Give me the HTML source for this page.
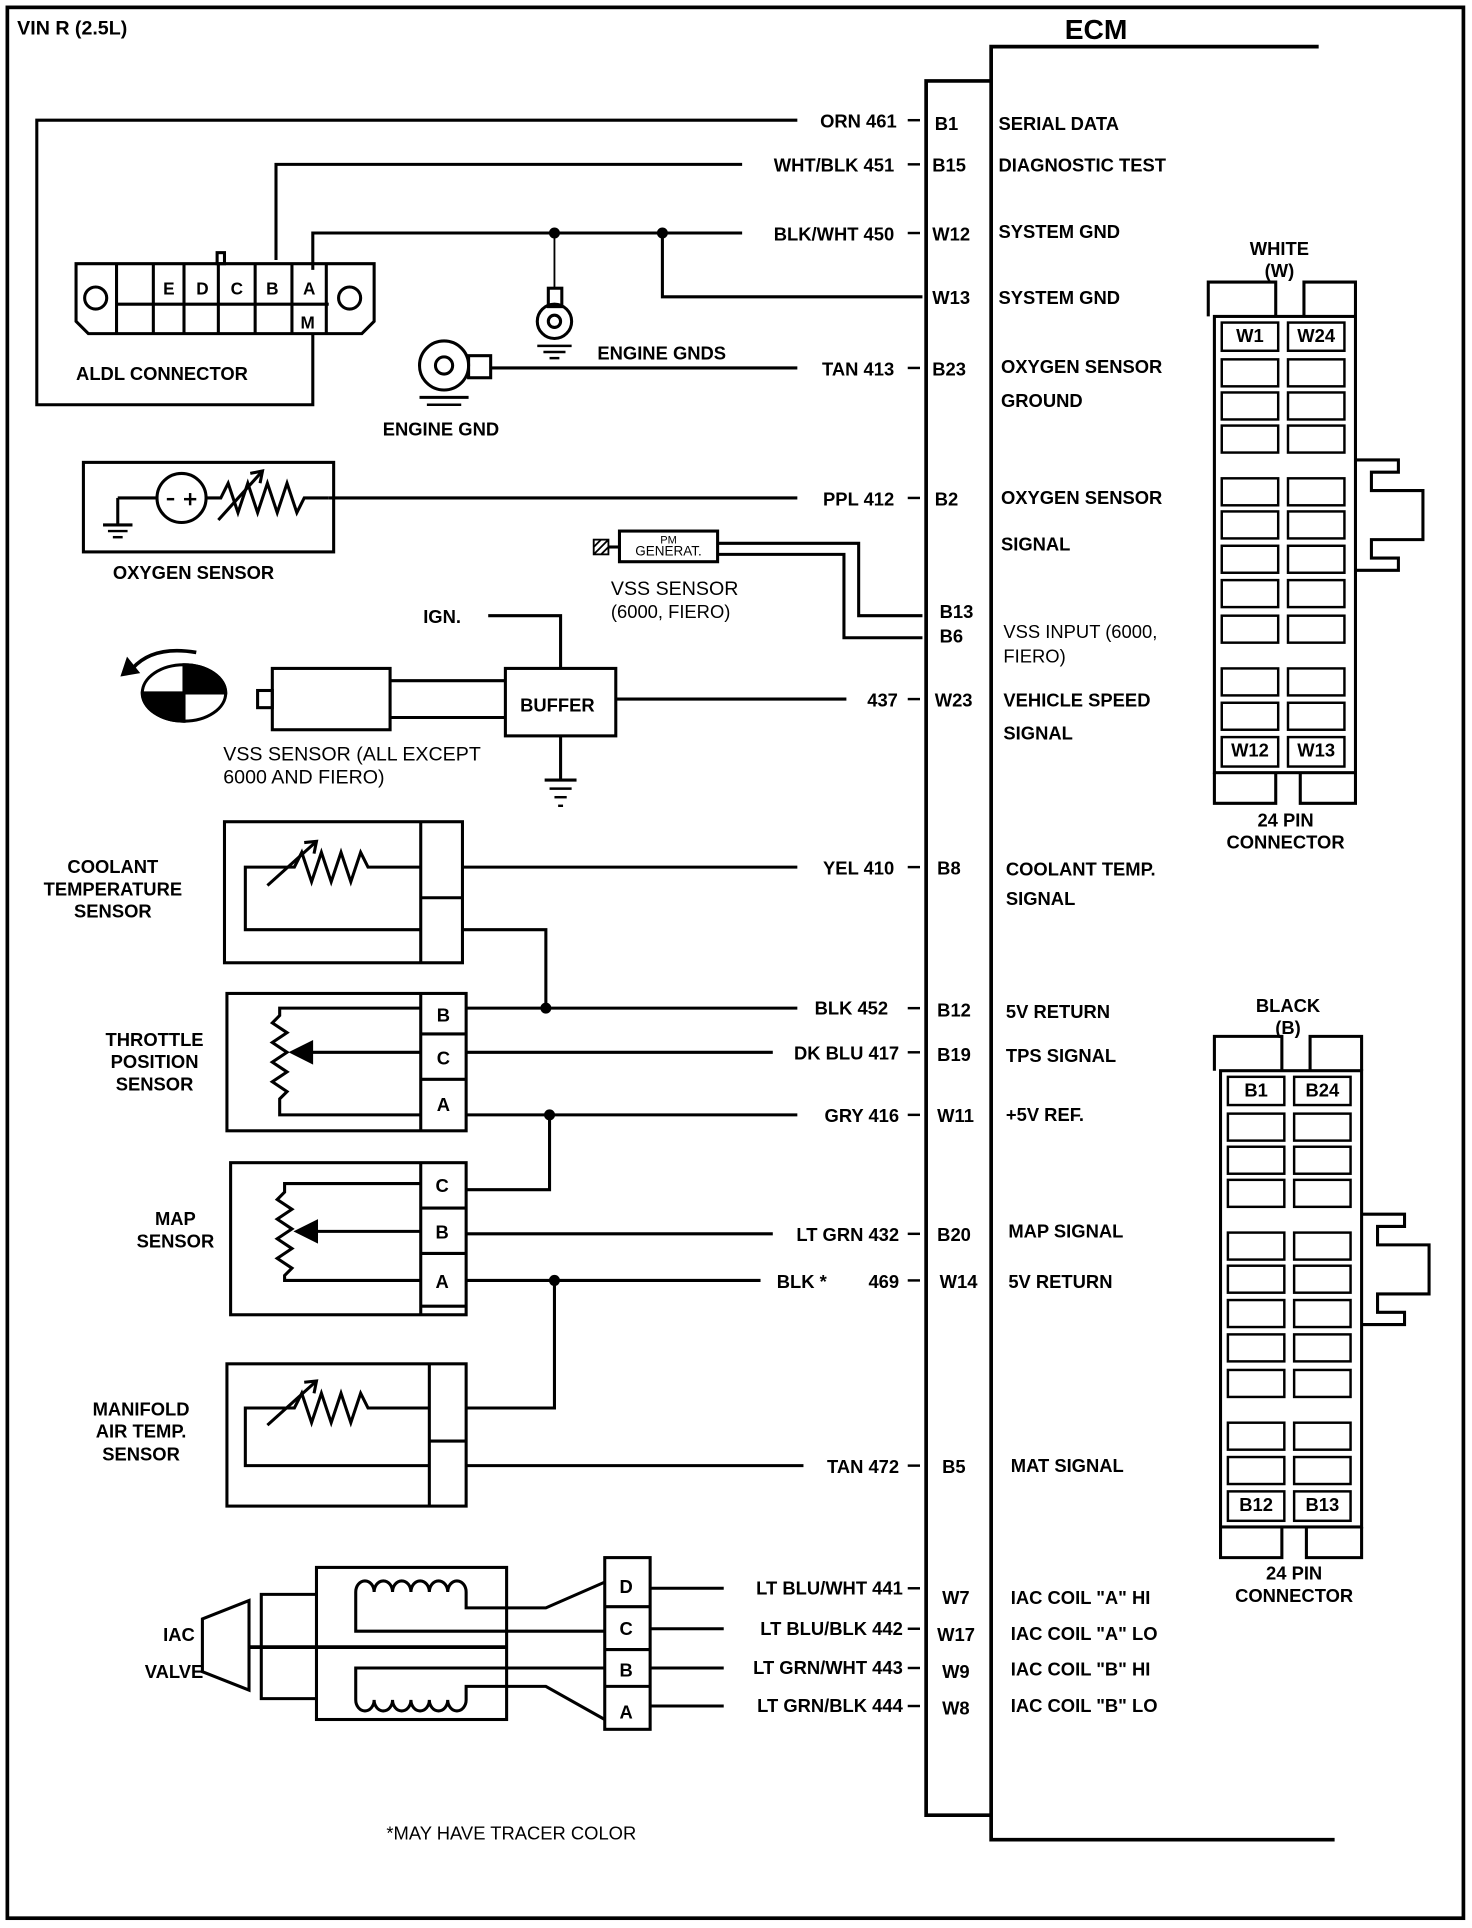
<!DOCTYPE html>
<html><head><meta charset="utf-8"><style>
html,body{margin:0;padding:0;background:#fff}
svg{display:block}
text{font-family:"Liberation Sans",sans-serif;font-weight:bold;font-size:15px;fill:#000}
.r{font-weight:normal}
</style></head><body>
<svg width="1472" height="1928" viewBox="0 0 1200 1572" preserveAspectRatio="none" xmlns="http://www.w3.org/2000/svg">
<g fill="none" stroke="#000" stroke-width="2.5">
<rect x="6" y="6" width="1187" height="1558" stroke-width="3"/>
<polyline points="1075,38 808,38 808,1500 1088,1500" stroke-width="3"/>
<polyline points="808,66 755,66 755,1480 808,1480" stroke-width="3"/>
<polyline points="650,98 30,98 30,330 255,330 255,272"/>
<polyline points="605,134 225,134 225,212"/>
<polyline points="605,190 255,190 255,220"/>
<polyline points="540,190 540,242 752,242"/>
<line x1="452" y1="190" x2="452" y2="235" stroke-width="1.5"/>
<line x1="400" y1="300" x2="650" y2="300"/>
<line x1="268" y1="406" x2="650" y2="406"/>
<polyline points="585,443 700,443 700,502 752,502"/>
<polyline points="585,452 688,452 688,520 752,520"/>
<line x1="502" y1="570" x2="690" y2="570"/>
<line x1="377" y1="707" x2="650" y2="707"/>
<polyline points="377,758 445,758 445,822"/>
<line x1="380" y1="822" x2="650" y2="822"/>
<line x1="380" y1="858" x2="630" y2="858"/>
<line x1="380" y1="909" x2="650" y2="909"/>
<polyline points="448,909 448,970 380,970"/>
<line x1="380" y1="1006" x2="630" y2="1006"/>
<line x1="380" y1="1044" x2="620" y2="1044"/>
<polyline points="452,1044 452,1148 380,1148"/>
<line x1="380" y1="1195" x2="655" y2="1195"/>
<line x1="530" y1="1295" x2="590" y2="1295"/>
<line x1="530" y1="1328" x2="590" y2="1328"/>
<line x1="530" y1="1360" x2="590" y2="1360"/>
<line x1="530" y1="1391" x2="590" y2="1391"/>
<g stroke-width="2">
<line x1="740" y1="98" x2="750" y2="98"/><line x1="740" y1="134" x2="750" y2="134"/><line x1="740" y1="190" x2="750" y2="190"/>
<line x1="740" y1="300" x2="750" y2="300"/><line x1="740" y1="406" x2="750" y2="406"/><line x1="740" y1="570" x2="750" y2="570"/>
<line x1="740" y1="707" x2="750" y2="707"/><line x1="740" y1="822" x2="750" y2="822"/><line x1="740" y1="858" x2="750" y2="858"/>
<line x1="740" y1="909" x2="750" y2="909"/><line x1="740" y1="1006" x2="750" y2="1006"/><line x1="740" y1="1044" x2="750" y2="1044"/>
<line x1="740" y1="1195" x2="750" y2="1195"/><line x1="740" y1="1295" x2="750" y2="1295"/><line x1="740" y1="1328" x2="750" y2="1328"/>
<line x1="740" y1="1360" x2="750" y2="1360"/><line x1="740" y1="1391" x2="750" y2="1391"/>
</g>
<path d="M62,215 H305 V262 L295,272 H72 L62,262 Z"/>
<line x1="95" y1="248" x2="268" y2="248"/>
<line x1="95" y1="215" x2="95" y2="272"/><line x1="125" y1="215" x2="125" y2="272"/><line x1="150" y1="215" x2="150" y2="272"/>
<line x1="178" y1="215" x2="178" y2="272"/><line x1="208" y1="215" x2="208" y2="272"/><line x1="238" y1="215" x2="238" y2="272"/><line x1="266" y1="215" x2="266" y2="272"/>
<circle cx="78" cy="243" r="9"/><circle cx="285" cy="243" r="9"/>
<rect x="177" y="206" width="6" height="9"/>
<rect x="447" y="235" width="11" height="15"/>
<circle cx="452" cy="262" r="14"/><circle cx="452" cy="262" r="5"/>
<line x1="438" y1="282" x2="466" y2="282" stroke-width="2"/><line x1="443" y1="287" x2="461" y2="287" stroke-width="2"/><line x1="448" y1="292" x2="456" y2="292" stroke-width="2"/>
<circle cx="362" cy="298" r="20"/><circle cx="362" cy="298" r="7"/>
<rect x="382" y="290" width="18" height="18"/>
<line x1="342" y1="324" x2="382" y2="324"/><line x1="348" y1="330" x2="376" y2="330" stroke-width="2"/>
<rect x="68" y="377" width="204" height="73"/>
<polyline points="96,406 128,406"/>
<polyline points="96,406 96,428"/><line x1="84" y1="428" x2="108" y2="428"/><line x1="88" y1="433" x2="104" y2="433" stroke-width="2"/><line x1="92" y1="438" x2="100" y2="438" stroke-width="2"/>
<circle cx="148" cy="406" r="20"/>
<line x1="136" y1="407" x2="142" y2="407" stroke-width="2"/>
<line x1="150" y1="407" x2="160" y2="407" stroke-width="2"/><line x1="155" y1="402" x2="155" y2="412" stroke-width="2"/>
<polyline points="168,406 180,406 186,394 194,418 202,394 210,418 218,394 226,418 234,394 242,418 248,406 268,406"/>
<line x1="178" y1="424" x2="214" y2="384"/><polyline points="204,386 214,384 212,394"/>
<rect x="505" y="433" width="80" height="25"/>
<rect x="484" y="440" width="12" height="12" stroke-width="1.5"/>
<line x1="484" y1="452" x2="496" y2="440" stroke-width="1.5"/><line x1="484" y1="446" x2="490" y2="440" stroke-width="1.5"/><line x1="490" y1="452" x2="496" y2="446" stroke-width="1.5"/>
<line x1="496" y1="446" x2="505" y2="446"/>
<ellipse cx="150" cy="565" rx="34" ry="23"/>
<path d="M150,542 A34,23 0 0,1 184,565 L150,565 Z" fill="#000"/>
<path d="M150,588 A34,23 0 0,1 116,565 L150,565 Z" fill="#000"/>
<path d="M160,532 Q125,526 108,545" stroke-width="3"/><polygon points="100,550 112,548 104,538" fill="#000"/>
<rect x="210" y="563" width="12" height="14"/>
<rect x="222" y="545" width="96" height="50"/>
<line x1="318" y1="555" x2="412" y2="555"/><line x1="318" y1="585" x2="412" y2="585"/>
<rect x="412" y="545" width="90" height="55"/>
<polyline points="398,502 457,502 457,545"/>
<line x1="457" y1="600" x2="457" y2="636"/>
<line x1="444" y1="636" x2="470" y2="636"/><line x1="448" y1="643" x2="466" y2="643" stroke-width="2"/><line x1="452" y1="650" x2="462" y2="650" stroke-width="2"/><line x1="455" y1="657" x2="459" y2="657" stroke-width="2"/>
<rect x="183" y="670" width="194" height="115"/>
<line x1="343" y1="670" x2="343" y2="785"/><line x1="343" y1="732" x2="377" y2="732"/>
<polyline points="343,707 300,707 294,695 286,719 278,695 270,719 262,695 254,719 246,695 240,707 200,707 200,758 343,758"/>
<line x1="218" y1="722" x2="258" y2="686"/><polyline points="248,687 258,686 256,696"/>
<rect x="185" y="810" width="195" height="112"/>
<line x1="343" y1="810" x2="343" y2="922"/><line x1="343" y1="843" x2="380" y2="843"/><line x1="343" y1="880" x2="380" y2="880"/>
<polyline points="343,822 228,822 228,828 222,834 234,842 222,850 234,858 222,866 234,874 222,882 234,890 228,896 228,909 343,909"/>
<line x1="248" y1="858" x2="343" y2="858"/><polygon points="238,858 254,850 254,866" fill="#000"/>
<rect x="188" y="948" width="192" height="124"/>
<line x1="343" y1="948" x2="343" y2="1072"/><line x1="343" y1="985" x2="380" y2="985"/><line x1="343" y1="1022" x2="380" y2="1022"/><line x1="343" y1="1065" x2="380" y2="1065"/>
<polyline points="343,965 232,965 232,972 226,978 238,986 226,994 238,1002 226,1010 238,1018 226,1026 238,1034 232,1040 232,1044 343,1044"/>
<line x1="252" y1="1004" x2="343" y2="1004"/><polygon points="242,1004 258,996 258,1012" fill="#000"/>
<rect x="185" y="1112" width="195" height="116"/>
<line x1="350" y1="1112" x2="350" y2="1228"/><line x1="350" y1="1175" x2="380" y2="1175"/>
<polyline points="350,1148 300,1148 294,1136 286,1160 278,1136 270,1160 262,1136 254,1160 246,1136 240,1148 200,1148 200,1195 350,1195"/>
<line x1="218" y1="1162" x2="258" y2="1126"/><polyline points="248,1127 258,1126 256,1136"/>
<!-- IAC -->
<rect x="258" y="1278" width="155" height="124"/>
<polygon points="165,1320 203,1305 203,1378 165,1363"/>
<polyline points="258,1300 213,1300 213,1385 258,1385"/>
<line x1="203" y1="1343" x2="413" y2="1343" stroke-width="3"/>
<path d="M493,1290 L445,1311 H380 V1298 A7.5,9 0 0 0 365,1298 A7.5,9 0 0 0 350,1298 A7.5,9 0 0 0 335,1298 A7.5,9 0 0 0 320,1298 A7.5,9 0 0 0 305,1298 A7.5,9 0 0 0 290,1298 V1330 H493"/>
<path d="M493,1360 H290 V1386 A7.5,9 0 0 0 305,1386 A7.5,9 0 0 0 320,1386 A7.5,9 0 0 0 335,1386 A7.5,9 0 0 0 350,1386 A7.5,9 0 0 0 365,1386 A7.5,9 0 0 0 380,1386 V1375 H445 L493,1402"/>
<rect x="493" y="1270" width="37" height="140"/>
<line x1="493" y1="1310" x2="530" y2="1310"/><line x1="493" y1="1345" x2="530" y2="1345"/><line x1="493" y1="1375" x2="530" y2="1375"/>
<g>
<path d="M985,258 V230 H1040 V258 M1063,258 V230 H1105 V258"/>
<rect x="990" y="258" width="115" height="372"/>
<path d="M1105,375 H1140 V385 H1118 V400 H1160 V440 H1118 V455 H1140 V465 H1105"/>
<path d="M990,630 V655 H1040 V630 M1060,630 V655 H1105 V630"/>
<g stroke-width="2">
<rect x="996" y="263" width="46" height="23"/><rect x="1050" y="263" width="46" height="23"/>
<rect x="996" y="293" width="46" height="22"/><rect x="1050" y="293" width="46" height="22"/>
<rect x="996" y="320" width="46" height="22"/><rect x="1050" y="320" width="46" height="22"/>
<rect x="996" y="347" width="46" height="22"/><rect x="1050" y="347" width="46" height="22"/>
<rect x="996" y="390" width="46" height="22"/><rect x="1050" y="390" width="46" height="22"/>
<rect x="996" y="417" width="46" height="22"/><rect x="1050" y="417" width="46" height="22"/>
<rect x="996" y="445" width="46" height="22"/><rect x="1050" y="445" width="46" height="22"/>
<rect x="996" y="473" width="46" height="22"/><rect x="1050" y="473" width="46" height="22"/>
<rect x="996" y="502" width="46" height="22"/><rect x="1050" y="502" width="46" height="22"/>
<rect x="996" y="545" width="46" height="22"/><rect x="1050" y="545" width="46" height="22"/>
<rect x="996" y="573" width="46" height="22"/><rect x="1050" y="573" width="46" height="22"/>
<rect x="996" y="601" width="46" height="24"/><rect x="1050" y="601" width="46" height="24"/>
</g></g>
<g transform="translate(5,615)">
<path d="M985,258 V230 H1040 V258 M1063,258 V230 H1105 V258"/>
<rect x="990" y="258" width="115" height="372"/>
<path d="M1105,375 H1140 V385 H1118 V400 H1160 V440 H1118 V455 H1140 V465 H1105"/>
<path d="M990,630 V655 H1040 V630 M1060,630 V655 H1105 V630"/>
<g stroke-width="2">
<rect x="996" y="263" width="46" height="23"/><rect x="1050" y="263" width="46" height="23"/>
<rect x="996" y="293" width="46" height="22"/><rect x="1050" y="293" width="46" height="22"/>
<rect x="996" y="320" width="46" height="22"/><rect x="1050" y="320" width="46" height="22"/>
<rect x="996" y="347" width="46" height="22"/><rect x="1050" y="347" width="46" height="22"/>
<rect x="996" y="390" width="46" height="22"/><rect x="1050" y="390" width="46" height="22"/>
<rect x="996" y="417" width="46" height="22"/><rect x="1050" y="417" width="46" height="22"/>
<rect x="996" y="445" width="46" height="22"/><rect x="1050" y="445" width="46" height="22"/>
<rect x="996" y="473" width="46" height="22"/><rect x="1050" y="473" width="46" height="22"/>
<rect x="996" y="502" width="46" height="22"/><rect x="1050" y="502" width="46" height="22"/>
<rect x="996" y="545" width="46" height="22"/><rect x="1050" y="545" width="46" height="22"/>
<rect x="996" y="573" width="46" height="22"/><rect x="1050" y="573" width="46" height="22"/>
<rect x="996" y="601" width="46" height="24"/><rect x="1050" y="601" width="46" height="24"/>
</g></g>
</g>
<g fill="#000">
<circle cx="452" cy="190" r="4.5"/><circle cx="540" cy="190" r="4.5"/>
<circle cx="445" cy="822" r="4.5"/><circle cx="448" cy="909" r="4.5"/><circle cx="452" cy="1044" r="4.5"/>
</g>
<text x="14" y="28" style="font-size:16px">VIN R (2.5L)</text>
<text x="868" y="32" style="font-size:23px">ECM</text>
<g>
<text x="731" y="104" text-anchor="end">ORN 461</text>
<text x="729" y="140" text-anchor="end">WHT/BLK 451</text>
<text x="729" y="196" text-anchor="end">BLK/WHT 450</text>
<text x="729" y="306" text-anchor="end">TAN 413</text>
<text x="729" y="412" text-anchor="end">PPL 412</text>
<text x="732" y="576" text-anchor="end">437</text>
<text x="729" y="713" text-anchor="end">YEL 410</text>
<text x="724" y="827" text-anchor="end">BLK 452</text>
<text x="733" y="864" text-anchor="end">DK BLU 417</text>
<text x="733" y="915" text-anchor="end">GRY 416</text>
<text x="733" y="1012" text-anchor="end">LT GRN 432</text>
<text x="674" y="1050" text-anchor="end">BLK *</text>
<text x="733" y="1050" text-anchor="end">469</text>
<text x="733" y="1201" text-anchor="end">TAN 472</text>
<text x="736" y="1300" text-anchor="end">LT BLU/WHT 441</text>
<text x="736" y="1333" text-anchor="end">LT BLU/BLK 442</text>
<text x="736" y="1365" text-anchor="end">LT GRN/WHT 443</text>
<text x="736" y="1396" text-anchor="end">LT GRN/BLK 444</text>
</g>
<g>
<text x="762" y="106">B1</text><text x="760" y="140">B15</text><text x="760" y="196">W12</text><text x="760" y="248">W13</text>
<text x="760" y="306">B23</text><text x="762" y="412">B2</text><text x="766" y="504">B13</text><text x="766" y="524">B6</text>
<text x="762" y="576">W23</text><text x="764" y="713">B8</text><text x="764" y="829">B12</text><text x="764" y="865">B19</text>
<text x="764" y="915">W11</text><text x="764" y="1012">B20</text><text x="766" y="1050">W14</text><text x="768" y="1201">B5</text>
<text x="768" y="1308">W7</text><text x="764" y="1338">W17</text><text x="768" y="1368">W9</text><text x="768" y="1398">W8</text>
</g>
<g>
<text x="814" y="106">SERIAL DATA</text><text x="814" y="140">DIAGNOSTIC TEST</text>
<text x="814" y="194">SYSTEM GND</text><text x="814" y="248">SYSTEM GND</text>
<text x="816" y="304">OXYGEN SENSOR</text><text x="816" y="332">GROUND</text>
<text x="816" y="411">OXYGEN SENSOR</text><text x="816" y="449">SIGNAL</text>
<text x="818" y="520" class="r">VSS INPUT (6000,</text><text x="818" y="540" class="r">FIERO)</text>
<text x="818" y="576">VEHICLE SPEED</text><text x="818" y="603">SIGNAL</text>
<text x="820" y="714">COOLANT TEMP.</text><text x="820" y="738">SIGNAL</text>
<text x="820" y="830">5V RETURN</text><text x="820" y="866">TPS SIGNAL</text><text x="820" y="914">+5V REF.</text>
<text x="822" y="1009">MAP SIGNAL</text><text x="822" y="1050">5V RETURN</text><text x="824" y="1200">MAT SIGNAL</text>
<text x="824" y="1308">IAC COIL "A" HI</text><text x="824" y="1337">IAC COIL "A" LO</text>
<text x="824" y="1366">IAC COIL "B" HI</text><text x="824" y="1396">IAC COIL "B" LO</text>
</g>
<g>
<text x="133" y="240" style="font-size:14px">E</text><text x="160" y="240" style="font-size:14px">D</text><text x="188" y="240" style="font-size:14px">C</text>
<text x="217" y="240" style="font-size:14px">B</text><text x="247" y="240" style="font-size:14px">A</text><text x="245" y="268" style="font-size:14px">M</text>
<text x="62" y="310">ALDL CONNECTOR</text>
<text x="487" y="293">ENGINE GNDS</text>
<text x="312" y="355">ENGINE GND</text>
<text x="92" y="472">OXYGEN SENSOR</text>
<text x="545" y="443" text-anchor="middle" class="r" style="font-size:9px">PM</text>
<text x="545" y="453" text-anchor="middle" class="r" style="font-size:11px">GENERAT.</text>
<text x="498" y="485" class="r" style="font-size:16px">VSS SENSOR</text>
<text x="498" y="504" class="r">(6000, FIERO)</text>
<text x="345" y="508">IGN.</text>
<text x="424" y="580">BUFFER</text>
<text x="182" y="620" class="r" style="font-size:16px">VSS SENSOR (ALL EXCEPT</text>
<text x="182" y="639" class="r" style="font-size:16px">6000 AND FIERO)</text>
<text x="92" y="712" text-anchor="middle">COOLANT</text><text x="92" y="730" text-anchor="middle">TEMPERATURE</text><text x="92" y="748" text-anchor="middle">SENSOR</text>
<text x="126" y="853" text-anchor="middle">THROTTLE</text><text x="126" y="871" text-anchor="middle">POSITION</text><text x="126" y="889" text-anchor="middle">SENSOR</text>
<text x="143" y="999" text-anchor="middle">MAP</text><text x="143" y="1017" text-anchor="middle">SENSOR</text>
<text x="115" y="1154" text-anchor="middle">MANIFOLD</text><text x="115" y="1172" text-anchor="middle">AIR TEMP.</text><text x="115" y="1191" text-anchor="middle">SENSOR</text>
<text x="356" y="833">B</text><text x="356" y="868">C</text><text x="356" y="906">A</text>
<text x="355" y="972">C</text><text x="355" y="1010">B</text><text x="355" y="1050">A</text>
<text x="505" y="1299">D</text><text x="505" y="1333">C</text><text x="505" y="1367">B</text><text x="505" y="1401">A</text>
<text x="133" y="1338">IAC</text><text x="118" y="1368">VALVE</text>
<text x="315" y="1500" class="r" style="font-size:15px">*MAY HAVE TRACER COLOR</text>
<text x="1043" y="208" text-anchor="middle">WHITE</text><text x="1043" y="226" text-anchor="middle">(W)</text>
<text x="1048" y="674" text-anchor="middle">24 PIN</text><text x="1048" y="692" text-anchor="middle">CONNECTOR</text>
<text x="1050" y="825" text-anchor="middle">BLACK</text><text x="1050" y="843" text-anchor="middle">(B)</text>
<text x="1055" y="1288" text-anchor="middle">24 PIN</text><text x="1055" y="1306" text-anchor="middle">CONNECTOR</text>
<g style="font-size:10px">
<text x="1019" y="279" text-anchor="middle">W1</text><text x="1073" y="279" text-anchor="middle">W24</text>
<text x="1019" y="617" text-anchor="middle">W12</text><text x="1073" y="617" text-anchor="middle">W13</text>
<text x="1024" y="894" text-anchor="middle">B1</text><text x="1078" y="894" text-anchor="middle">B24</text>
<text x="1024" y="1232" text-anchor="middle">B12</text><text x="1078" y="1232" text-anchor="middle">B13</text>
</g>
</g>
</svg>
</body></html>
